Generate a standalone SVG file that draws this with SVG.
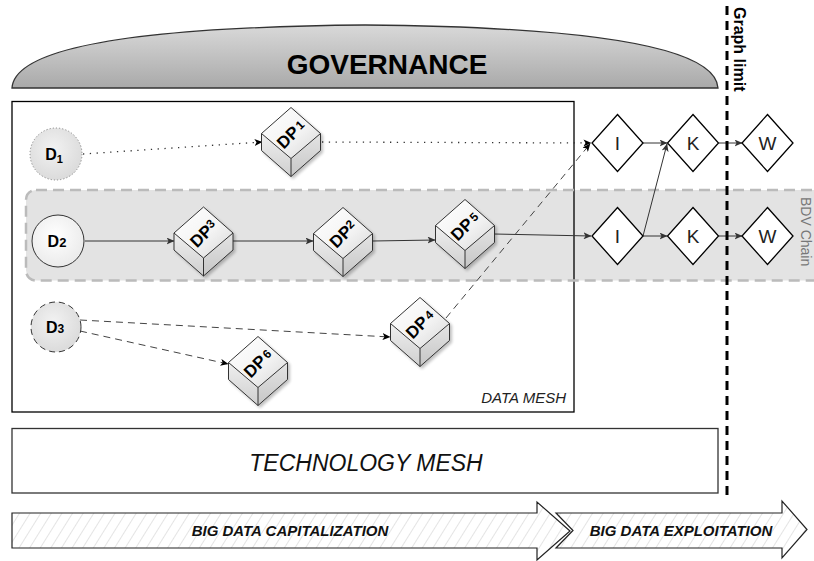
<svg xmlns="http://www.w3.org/2000/svg" xmlns:xlink="http://www.w3.org/1999/xlink" width="814" height="561" viewBox="0 0 814 561">
  <defs>
    <linearGradient id="domeFill" x1="0" y1="0" x2="0" y2="1">
      <stop offset="0" stop-color="#d9d9d9"/>
      <stop offset="1" stop-color="#a9a9a9"/>
    </linearGradient>
    <linearGradient id="cubeTop" x1="0" y1="0" x2="1" y2="1">
      <stop offset="0" stop-color="#ffffff"/>
      <stop offset="0.55" stop-color="#f4f4f4"/>
      <stop offset="1" stop-color="#d6d6d6"/>
    </linearGradient>
    <linearGradient id="cubeLeft" x1="0" y1="0" x2="0" y2="1">
      <stop offset="0" stop-color="#efefef"/>
      <stop offset="1" stop-color="#cfcfcf"/>
    </linearGradient>
    <linearGradient id="cubeRight" x1="0" y1="0" x2="0" y2="1">
      <stop offset="0" stop-color="#e4e4e4"/>
      <stop offset="1" stop-color="#c6c6c6"/>
    </linearGradient>
    <radialGradient id="srcGrey" cx="0.45" cy="0.4" r="0.65">
      <stop offset="0" stop-color="#f2f2f2"/>
      <stop offset="1" stop-color="#d9d9d9"/>
    </radialGradient>
    <radialGradient id="srcLight" cx="0.45" cy="0.4" r="0.65">
      <stop offset="0" stop-color="#ffffff"/>
      <stop offset="1" stop-color="#e9e9e9"/>
    </radialGradient>
    <pattern id="hatch" width="9" height="9" patternUnits="userSpaceOnUse" patternTransform="rotate(32)">
      <rect width="9" height="9" fill="#ffffff"/>
      <line x1="0" y1="0" x2="0" y2="9" stroke="#d2d2d2" stroke-width="1.2"/>
    </pattern>
    <filter id="shade" x="-20%" y="-20%" width="150%" height="150%">
      <feGaussianBlur in="SourceAlpha" stdDeviation="1.5"/>
      <feOffset dx="2" dy="2" result="b"/>
      <feComponentTransfer><feFuncA type="linear" slope="0.25"/></feComponentTransfer>
      <feMerge><feMergeNode/><feMergeNode in="SourceGraphic"/></feMerge>
    </filter>
    <marker id="arr" viewBox="0 0 8 7" refX="7.5" refY="3.5" markerWidth="8" markerHeight="7" markerUnits="userSpaceOnUse" orient="auto">
      <path d="M0,0 L8,3.5 L0,7 L2,3.5 Z" fill="#333"/>
    </marker>
    <marker id="arrBlack" viewBox="0 0 8 7" refX="7.5" refY="3.5" markerWidth="8" markerHeight="7" markerUnits="userSpaceOnUse" orient="auto">
      <path d="M0,0 L8,3.5 L0,7 L2,3.5 Z" fill="#000"/>
    </marker>
    <!-- isometric data-product box, centred on its bounding box -->
    <g id="cube" filter="url(#shade)">
      <path d="M0,-34.5 L29.5,-8.5 L0,16.5 L-29.5,-8.5 Z" fill="url(#cubeTop)"/>
      <path d="M-29.5,-8.5 L0,16.5 L0,34.5 L-29.5,8.5 Z" fill="url(#cubeLeft)"/>
      <path d="M0,16.5 L29.5,-8.5 L29.5,8.5 L0,34.5 Z" fill="url(#cubeRight)"/>
      <path d="M0,-34.5 L29.5,-8.5 L29.5,8.5 L0,34.5 L-29.5,8.5 L-29.5,-8.5 Z M-29.5,-8.5 L0,16.5 L29.5,-8.5 M0,16.5 L0,34.5" fill="none" stroke="#333" stroke-width="1" stroke-linejoin="round"/>
    </g>
    <path id="diamond" d="M0,-28.5 L25.5,0 L0,28.5 L-25.5,0 Z"/>
  </defs>
  <style>
    text { font-family: "Liberation Sans", Arial, sans-serif; }
    .dp { font-size: 17px; font-weight: bold; fill: #000; text-anchor: middle; }
    .dp tspan { font-size: 12px; }
    .src { font-size: 16px; font-weight: bold; fill: #000; text-anchor: middle; }
    .dia { fill: #fff; stroke: #000; stroke-width: 1.3; }
    .dtxt { font-size: 19px; fill: #222; text-anchor: middle; }
    .solid { fill: none; stroke: #333; stroke-width: 1; marker-end: url(#arr); }
    .dotted { fill: none; stroke: #333; stroke-width: 1.3; stroke-dasharray: 1.3 5.5; marker-end: url(#arrBlack); }
    .dashed { fill: none; stroke: #444; stroke-width: 1; stroke-dasharray: 7 5; marker-end: url(#arrBlack); }
    .flow { font-size: 15px; font-weight: bold; font-style: italic; fill: #111; text-anchor: middle; }
  </style>

  <rect width="814" height="561" fill="#ffffff"/>

  <!-- governance dome -->
  <g id="governance">
    <path d="M12,88 Q16,28 365,25 Q714,28 718,88 Z" fill="url(#domeFill)" stroke="#333" stroke-width="1.3"/>
    <text x="387" y="74" font-size="28" font-weight="bold" text-anchor="middle" fill="#000">GOVERNANCE</text>
  </g>

  <!-- data mesh container -->
  <g id="data-mesh">
    <rect x="12" y="101.5" width="562" height="310.5" fill="#fff" stroke="#000" stroke-width="1.3"/>
    <text x="566" y="403" font-size="15" font-style="italic" text-anchor="end" fill="#222">DATA MESH</text>
  </g>

  <!-- BDV chain band -->
  <g id="bdv-chain">
    <rect x="26" y="190" width="810" height="90.5" rx="10" fill="#000" fill-opacity="0.11" stroke="#bbb" stroke-width="2.5" stroke-dasharray="11 6"/>
    <text transform="translate(801,197) rotate(90)" font-size="14" fill="#777">BDV Chain</text>
  </g>

  <!-- technology mesh -->
  <g id="technology-mesh">
    <rect x="12" y="428.5" width="706" height="64.5" fill="#fff" stroke="#333" stroke-width="1.3"/>
    <text x="366" y="471" font-size="23" font-style="italic" text-anchor="middle" fill="#111">TECHNOLOGY MESH</text>
  </g>

  <!-- capitalization / exploitation arrows -->
  <g id="capitalization">
    <path d="M12,513 L537,513 L537,502 L570,531 L537,560 L537,548 L12,548 Z" fill="url(#hatch)" stroke="#222" stroke-width="1.2" stroke-linejoin="miter"/>
    <text class="flow" x="290" y="536">BIG DATA CAPITALIZATION</text>
  </g>
  <g id="exploitation">
    <path d="M556,513 L782,513 L782,501 L807,529.5 L782,558 L782,548 L556,548 L573,530.5 Z" fill="url(#hatch)" stroke="#222" stroke-width="1.2" stroke-linejoin="miter"/>
    <text class="flow" x="681" y="536">BIG DATA EXPLOITATION</text>
  </g>

  <!-- connectors -->
  <g id="connectors">
    <path class="dotted" d="M83,154 L262,142"/>
    <path class="dotted" d="M322,142 L591,143"/>
    <path class="solid" d="M85,241 L174,241"/>
    <path class="solid" d="M233,241 L313,241"/>
    <path class="solid" d="M373,241 L435,240"/>
    <path class="solid" d="M494,234 L591,236" stroke-width="1.3"/>
    <path class="dashed" d="M80,320 L390,337"/>
    <path class="dashed" d="M80,331 L228,364"/>
    <path class="dashed" d="M446,318 L590,144"/>
    <path class="solid" d="M643,143 L667,143"/>
    <path class="solid" d="M643,236 L667,144"/>
    <path class="solid" d="M643,236 L667,236"/>
    <path class="solid" d="M719,143 L742,143"/>
    <path class="solid" d="M719,236 L742,236"/>
  </g>

  <!-- sources -->
  <g id="d1">
    <circle cx="56" cy="154" r="26" fill="url(#srcGrey)" stroke="#888" stroke-width="1" stroke-dasharray="1.2 2"/>
    <text class="src" x="54" y="160">D<tspan font-size="11" dy="3">1</tspan></text>
  </g>
  <g id="d2">
    <circle cx="58" cy="241" r="26" fill="url(#srcLight)" stroke="#333" stroke-width="1"/>
    <text class="src" x="57" y="247">D<tspan font-size="13">2</tspan></text>
  </g>
  <g id="d3">
    <circle cx="56" cy="327" r="25" fill="url(#srcGrey)" stroke="#333" stroke-width="1" stroke-dasharray="6 4"/>
    <text class="src" x="55" y="333">D<tspan font-size="12">3</tspan></text>
  </g>

  <!-- data products -->
  <g id="dp1" transform="translate(291,142)">
    <use xlink:href="#cube"/>
    <text class="dp" transform="translate(0,-8) rotate(-45)" y="6">DP<tspan dx="2" dy="-2">1</tspan></text>
  </g>
  <g id="dp3" transform="translate(203.5,241.5)">
    <use xlink:href="#cube"/>
    <text class="dp" transform="translate(0,-8) rotate(-45)" y="6">DP<tspan dy="-4">3</tspan></text>
  </g>
  <g id="dp2" transform="translate(343,242)">
    <use xlink:href="#cube"/>
    <text class="dp" transform="translate(0,-8) rotate(-45)" y="6">DP<tspan dy="-4">2</tspan></text>
  </g>
  <g id="dp5" transform="translate(465,234)">
    <use xlink:href="#cube"/>
    <text class="dp" transform="translate(0,-8) rotate(-45)" y="6">DP<tspan dx="2" dy="-2">5</tspan></text>
  </g>
  <g id="dp4" transform="translate(420,332)">
    <use xlink:href="#cube"/>
    <text class="dp" transform="translate(0,-8) rotate(-45)" y="6">DP<tspan dx="2" dy="-2">4</tspan></text>
  </g>
  <g id="dp6" transform="translate(258,371)">
    <use xlink:href="#cube"/>
    <text class="dp" transform="translate(0,-8) rotate(-45)" y="6">DP<tspan dx="2" dy="-2">6</tspan></text>
  </g>

  <!-- exploitation steps -->
  <g id="i-top" transform="translate(617.5,143)">
    <use xlink:href="#diamond" class="dia"/>
    <text class="dtxt" y="7">I</text>
  </g>
  <g id="k-top" transform="translate(693,143)">
    <use xlink:href="#diamond" class="dia"/>
    <text class="dtxt" y="7">K</text>
  </g>
  <g id="w-top" transform="translate(767.5,143)">
    <use xlink:href="#diamond" class="dia"/>
    <text class="dtxt" y="7">W</text>
  </g>
  <g id="i-bottom" transform="translate(617.5,236)">
    <use xlink:href="#diamond" class="dia"/>
    <text class="dtxt" y="7">I</text>
  </g>
  <g id="k-bottom" transform="translate(693,236)">
    <use xlink:href="#diamond" class="dia"/>
    <text class="dtxt" y="7">K</text>
  </g>
  <g id="w-bottom" transform="translate(767.5,236)">
    <use xlink:href="#diamond" class="dia"/>
    <text class="dtxt" y="7">W</text>
  </g>

  <!-- graph limit -->
  <g id="graph-limit">
    <line x1="727" y1="6" x2="727" y2="500" stroke="#000" stroke-width="3" stroke-dasharray="9 6"/>
    <text transform="translate(734,7) rotate(90)" font-size="16" font-weight="bold" fill="#000">Graph limit</text>
  </g>
</svg>
